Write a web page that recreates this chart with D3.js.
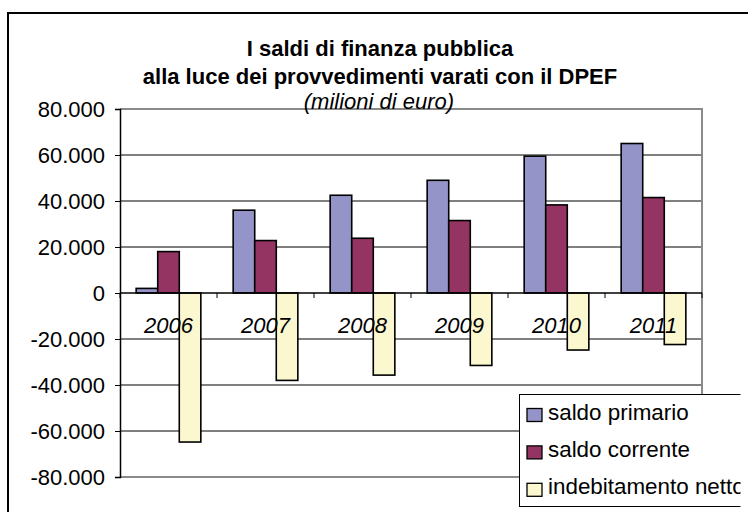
<!DOCTYPE html>
<html>
<head>
<meta charset="utf-8">
<script src="https://cdn.jsdelivr.net/npm/d3@7"></script>
<style>
  html, body { margin: 0; padding: 0; background: #fff; }
  svg { display: block; font-family: "Liberation Sans", Arial, sans-serif; }
</style>
</head>
<body>
<svg id="chart" width="748" height="512"></svg>
<script>
// ---- data ----
const years = ["2006", "2007", "2008", "2009", "2010", "2011"];
const seriesNames = ["saldo primario", "saldo corrente", "indebitamento netto"];
const saldoPrimario = [2000, 36000, 42500, 49000, 59500, 65000];
const saldoCorrente = [18000, 22800, 23800, 31500, 38300, 41500];
const indebitamentoNetto = [-64800, -38000, -35700, -31500, -24800, -22400];
const yTicks = [-80000, -60000, -40000, -20000, 0, 20000, 40000, 60000, 80000];
const titleLines = ["I saldi di finanza pubblica", "alla luce dei provvedimenti varati con il DPEF"];
const subtitle = "(milioni di euro)";

const colors = ["#9494C9", "#943462", "#FBF8D0"];
const seriesValues = [saldoPrimario, saldoCorrente, indebitamentoNetto];
const rows = years.map((y, i) => ({ year: y, values: seriesValues.map(s => s[i]) }));

const fmt = d3.formatLocale({ decimal: ",", thousands: ".", grouping: [3], currency: ["", "€"], minus: "-" }).format(",d");

const svg = d3.select("#chart");
const plot = { left: 120, right: 702, top: 109, bottom: 477 };

// outer frame
svg.append("rect").attr("x", 8).attr("y", 13).attr("width", 800).attr("height", 600)
  .attr("fill", "none").attr("stroke", "#000").attr("stroke-width", 2);

// scales
const x0 = d3.scaleBand().domain(years).range([plot.left, plot.right])
  .paddingInner(1 / 3).paddingOuter(1 / 6);
const x1 = d3.scaleBand().domain(d3.range(seriesNames.length)).range([0, x0.bandwidth()]);
const y = d3.scaleLinear().domain([-80000, 80000]).range([plot.bottom, plot.top]);

// gridlines
svg.append("g").selectAll("line").data(yTicks.filter(t => t !== 0 && Math.abs(t) !== 80000)).join("line")
  .attr("x1", plot.left).attr("x2", plot.right)
  .attr("y1", d => y(d)).attr("y2", d => y(d))
  .attr("stroke", "#000").attr("stroke-width", 1);

// plot area border (top, right, bottom) gray
svg.append("path")
  .attr("d", `M${plot.left},${y(80000)}H${plot.right}V${y(-80000)}H${plot.left}`)
  .attr("fill", "none").attr("stroke", "#8a8a8a").attr("stroke-width", 2);

// bars
const groups = svg.append("g").selectAll("g").data(rows).join("g")
  .attr("transform", d => `translate(${x0(d.year)},0)`);
groups.selectAll("rect").data(d => d.values.map((v, i) => ({ v, i }))).join("rect")
  .attr("x", d => x1(d.i))
  .attr("width", x1.bandwidth())
  .attr("y", d => y(Math.max(0, d.v)))
  .attr("height", d => Math.abs(y(d.v) - y(0)))
  .attr("fill", d => colors[d.i])
  .attr("stroke", "#000").attr("stroke-width", 1.6);

// y axis
const yAxis = d3.axisLeft(y).tickValues(yTicks).tickFormat(fmt).tickSize(5).tickPadding(10);
const gy = svg.append("g").attr("transform", `translate(${plot.left},0)`).call(yAxis);
gy.select(".domain").attr("stroke", "#000").attr("stroke-width", 1.5);
gy.selectAll(".tick line").attr("stroke", "#000");
gy.selectAll(".tick text").attr("font-size", 22).attr("fill", "#000")
  .attr("font-family", "'Liberation Sans', Arial, sans-serif");

// zero line with category ticks
const bounds = d3.range(years.length + 1).map(i => plot.left + i * x0.step());
svg.append("line").attr("x1", plot.left).attr("x2", plot.right)
  .attr("y1", y(0)).attr("y2", y(0)).attr("stroke", "#000").attr("stroke-width", 1.5);
svg.append("g").selectAll("line").data(bounds).join("line")
  .attr("x1", d => d).attr("x2", d => d)
  .attr("y1", y(0)).attr("y2", y(0) + 5)
  .attr("stroke", "#000").attr("stroke-width", 1);

// category labels
svg.append("g").selectAll("text").data(years).join("text")
  .attr("x", d => x0(d) + x0.bandwidth() / 2)
  .attr("y", y(0) + 40)
  .attr("text-anchor", "middle")
  .attr("font-size", 22).attr("font-style", "italic").attr("fill", "#000")
  .text(d => d);

// titles
svg.append("g").selectAll("text").data(titleLines).join("text")
  .attr("x", 380).attr("y", (d, i) => 56 + i * 28)
  .attr("text-anchor", "middle")
  .attr("font-size", 22).attr("font-weight", "bold").attr("fill", "#000")
  .text(d => d);
svg.append("text").attr("x", 379).attr("y", 108.8)
  .attr("text-anchor", "middle").attr("font-size", 22).attr("font-style", "italic")
  .attr("fill", "#000").text(subtitle);

// legend (clipped at chart edge)
svg.append("clipPath").attr("id", "legclip").append("rect")
  .attr("x", 0).attr("y", 0).attr("width", 740.5).attr("height", 512);
const leg = svg.append("g").attr("clip-path", "url(#legclip)");
leg.append("rect").attr("x", 519.5).attr("y", 394.5).attr("width", 240).attr("height", 112)
  .attr("fill", "#fff").attr("stroke", "#000").attr("stroke-width", 1);
const items = leg.selectAll("g.item").data(seriesNames).join("g").attr("class", "item")
  .attr("transform", (d, i) => `translate(0,${419.5 + i * 37.4})`);
items.append("rect").attr("x", 527).attr("y", -11).attr("width", 15).attr("height", 13)
  .attr("fill", (d, i) => colors[i]).attr("stroke", "#000").attr("stroke-width", 1.3);
items.append("text").attr("x", 548).attr("y", 0)
  .attr("font-size", 22.4).attr("fill", "#000").text(d => d);
</script>
</body>
</html>
